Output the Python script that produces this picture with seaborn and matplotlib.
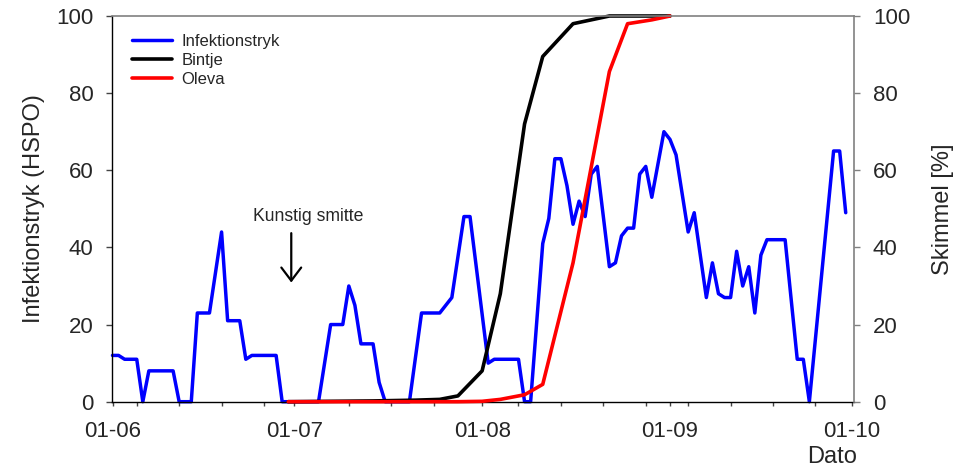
import matplotlib
matplotlib.use("Agg")
import matplotlib.pyplot as plt
import matplotlib.dates as mdates
import matplotlib.ticker as mticker
import seaborn as sns
import pandas as pd

YEAR = 2003

infek_dates = ["06-01", "06-02", "06-03", "06-05", "06-06", "06-07", "06-11", "06-12",
               "06-14", "06-15", "06-17", "06-19", "06-20", "06-22", "06-23", "06-24",
               "06-28", "06-29", "07-05", "07-07", "07-09", "07-10", "07-11", "07-12",
               "07-14", "07-15", "07-16", "07-20", "07-22", "07-25", "07-27", "07-29",
               "07-30", "08-02", "08-03", "08-07", "08-08", "08-09", "08-11", "08-12",
               "08-13", "08-14", "08-15", "08-16", "08-17", "08-18", "08-19", "08-20",
               "08-22", "08-23", "08-24", "08-25", "08-26", "08-27", "08-28", "08-29",
               "08-31", "09-01", "09-02", "09-04", "09-05", "09-07", "09-08", "09-09",
               "09-10", "09-11", "09-12", "09-13", "09-14", "09-15", "09-16", "09-17",
               "09-20", "09-22", "09-23", "09-24", "09-28", "09-29", "09-30"]
infek_values = [12, 12, 11, 11, 0, 8, 8, 0,
                0, 23, 23, 44, 21, 21, 11, 12,
                12, 0, 0, 20, 20, 30, 25, 15,
                15, 5, 0, 0, 23, 23, 27, 48,
                48, 10, 11, 11, 0, 0, 41, 47.5,
                63, 63, 56, 46, 52, 48, 59, 61,
                35, 36, 43, 45, 45, 59, 61, 53,
                70, 68, 64, 44, 49, 27, 36, 28,
                27, 27, 39, 30, 35, 23, 38, 42,
                42, 11, 11, 0, 65, 65, 49]

bintje_dates = ["06-30", "07-14", "07-21", "07-25", "07-28", "08-01", "08-04",
                "08-08", "08-11", "08-16", "08-22", "08-27", "09-01"]
bintje_values = [0, 0.2, 0.4, 0.6, 1.5, 8, 28, 72, 89.5, 98, 100, 100, 100]

oleva_dates = ["06-30", "07-14", "07-28", "08-01", "08-04", "08-08", "08-11",
               "08-16", "08-22", "08-25", "08-29", "09-01"]
oleva_values = [0, 0, 0, 0.1, 0.6, 1.8, 4.5, 36, 85.6, 98, 99, 100]

major_tick_dates = ["06-01", "07-01", "08-01", "09-01", "10-01"]
xtick_labels = ["01-06", "01-07", "01-08", "01-09", "01-10"]
minor_tick_dates = ["06-05", "06-12", "06-19", "06-26", "07-10", "07-17", "07-24",
                    "08-07", "08-14", "08-21", "08-28", "09-04", "09-11", "09-18", "09-25"]
ytick_values = [0, 20, 40, 60, 80, 100]


def to_dt(lst):
    return pd.to_datetime([f"{YEAR}-{d}" for d in lst])


df_inf = pd.DataFrame({"Dato": to_dt(infek_dates), "v": infek_values})
df_bin = pd.DataFrame({"Dato": to_dt(bintje_dates), "v": bintje_values})
df_ole = pd.DataFrame({"Dato": to_dt(oleva_dates), "v": oleva_values})

sns.set_style("ticks")
plt.rcParams["font.family"] = ["Liberation Sans", "DejaVu Sans"]

L, R, B, T = 112.0, 854.3, 401.7, 16.0
W, H = R - L, B - T

fig = plt.figure(figsize=(9.62, 4.70), dpi=100)
ax = fig.add_axes([L / 962, 1 - B / 470, W / 962, H / 470])
ax2 = ax.twinx()

sns.lineplot(data=df_inf, x="Dato", y="v", ax=ax, color="#0000ff", lw=2.5,
             estimator=None, sort=False, legend=False, clip_on=False)
sns.lineplot(data=df_bin, x="Dato", y="v", ax=ax2, color="black", lw=2.6,
             estimator=None, sort=False, legend=False, clip_on=False)
sns.lineplot(data=df_ole, x="Dato", y="v", ax=ax2, color="#ff0000", lw=2.6,
             estimator=None, sort=False, legend=False, clip_on=False)

x0 = pd.Timestamp(f"{YEAR}-06-01") - pd.Timedelta(hours=2)
x1 = pd.Timestamp(f"{YEAR}-10-01") + pd.Timedelta(hours=10)
ax.set_xlim(x0, x1)
ax.set_ylim(0, 100)
ax2.set_ylim(0, 100)

ax.xaxis.set_major_locator(mticker.FixedLocator(mdates.date2num(to_dt(major_tick_dates))))
ax.set_xticklabels(xtick_labels)
ax.xaxis.set_minor_locator(mticker.FixedLocator(mdates.date2num(to_dt(minor_tick_dates))))
ax.set_yticks(ytick_values)
ax2.set_yticks(ytick_values)

fs_tick = 16
ax.tick_params(axis="x", which="both", direction="out", length=3.2, width=1,
               pad=10.5, labelsize=fs_tick, color="#444444")
ax.tick_params(axis="y", direction="out", length=4.3, width=1, pad=9,
               labelsize=fs_tick, color="#444444")
ax2.tick_params(axis="y", direction="out", length=4.3, width=1, pad=9,
                labelsize=fs_tick, color="#808080")

for s in ["left", "bottom"]:
    ax.spines[s].set_color("black")
    ax.spines[s].set_linewidth(1)
for s in ["top", "right"]:
    ax2.spines[s].set_color("#808080")
    ax2.spines[s].set_linewidth(1.2)
    ax.spines[s].set_visible(False)
ax2.spines["left"].set_visible(False)
ax2.spines["bottom"].set_visible(False)

ax.set_ylabel("Infektionstryk (HSPO)", fontsize=17)
ax.yaxis.set_label_coords((45 - L) / W, 0.5)
ax2.set_ylabel("Skimmel [%]", fontsize=17)
ax2.yaxis.set_label_coords((932 - L) / W, 0.5)
ax.set_xlabel("Dato", fontsize=17)
ax.xaxis.set_label_coords((832 - L) / W, (B - 446) / H)

# annotation
arrow_x = pd.Timestamp(f"{YEAR}-06-30") + pd.Timedelta(hours=12)
ax.annotate("", xy=(mdates.date2num(arrow_x), 30.9), xytext=(mdates.date2num(arrow_x), 43.7),
            arrowprops=dict(arrowstyle="->,head_length=0.45,head_width=0.34",
                            color="black", lw=1.6, mutation_scale=21, shrinkA=0, shrinkB=0))
text_x = pd.Timestamp(f"{YEAR}-07-03") + pd.Timedelta(hours=8)
ax.text(mdates.date2num(text_x), 48.1, "Kunstig smitte", ha="center", va="center", fontsize=12.7)

handles = [ax.get_lines()[0], ax2.get_lines()[0], ax2.get_lines()[1]]
labels = ["Infektionstryk", "Bintje", "Oleva"]
ax.legend(handles, labels, loc="upper left",
          bbox_to_anchor=((132 - L) / W, (B - 34) / H),
          frameon=False, fontsize=12, borderaxespad=0, borderpad=0,
          handlelength=2.4, handletextpad=0.55, labelspacing=0.25)

fig.savefig("out.png", dpi=100)
